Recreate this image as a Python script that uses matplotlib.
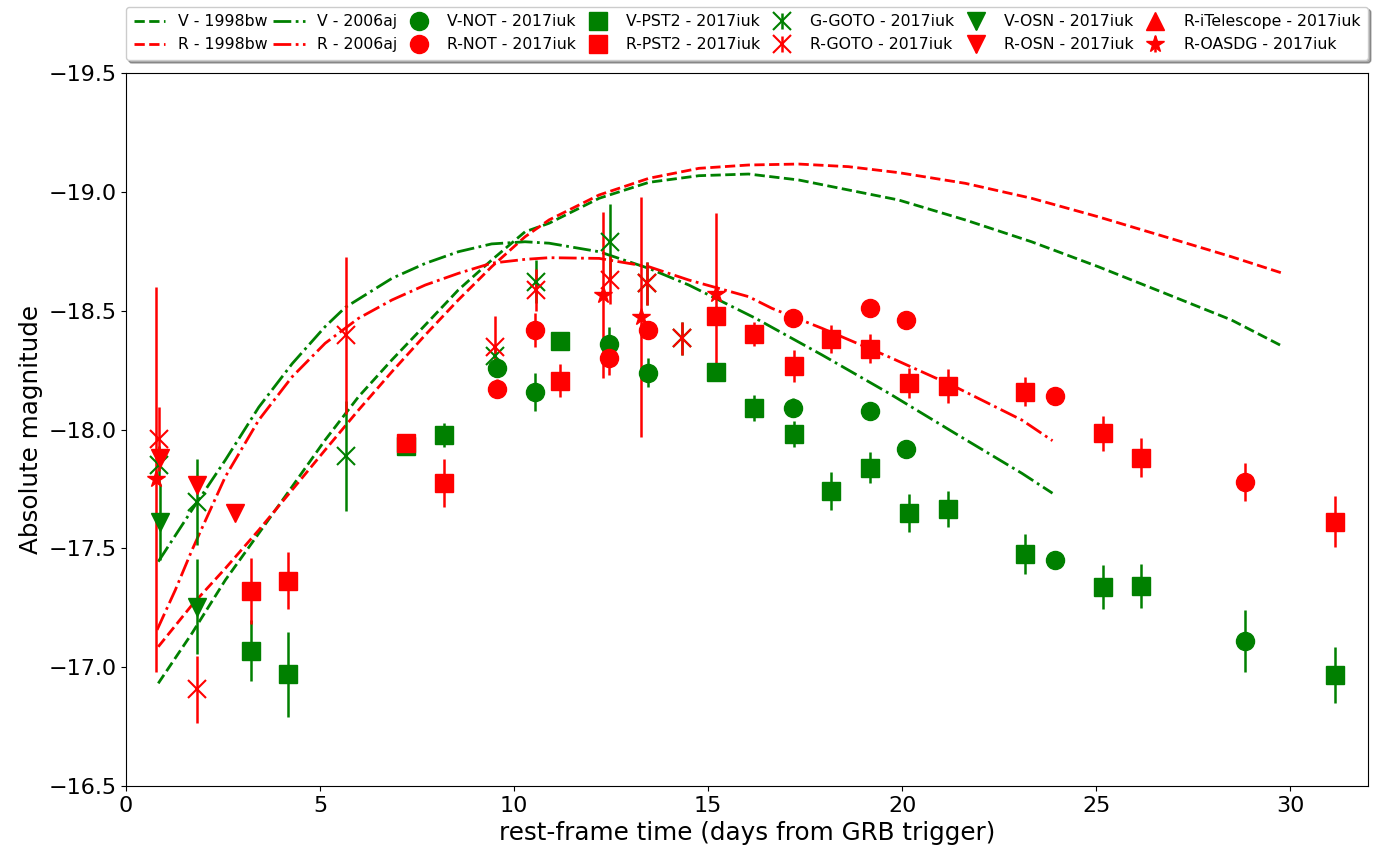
import matplotlib
matplotlib.use("Agg")
import matplotlib.pyplot as plt

# ---------------- template light curves ----------------
v98_t = [0.83, 1.70, 2.56, 3.42, 4.28, 5.13, 5.99, 6.85, 7.71, 8.56, 9.42, 10.28,
         10.9, 12.19, 13.47, 14.76, 16.04, 17.33, 18.61, 19.9, 21.62, 23.33, 25.05,
         26.77, 28.48, 29.81]
v98_m = [-16.932, -17.143, -17.367, -17.563, -17.760, -17.956, -18.138, -18.293,
         -18.440, -18.587, -18.713, -18.832, -18.868, -18.973, -19.040, -19.068,
         -19.075, -19.050, -19.008, -18.966, -18.882, -18.790, -18.685, -18.573,
         -18.461, -18.349]

r98_t = [0.83, 1.70, 2.56, 3.42, 4.28, 5.13, 5.99, 6.85, 7.71, 8.56, 9.42, 10.28,
         10.9, 12.19, 13.47, 14.76, 16.04, 17.33, 18.61, 19.9, 21.62, 23.33, 25.05,
         26.77, 28.48, 29.81]
r98_m = [-17.086, -17.262, -17.416, -17.577, -17.746, -17.914, -18.082, -18.243,
         -18.398, -18.545, -18.685, -18.811, -18.882, -18.987, -19.057, -19.099,
         -19.113, -19.117, -19.106, -19.081, -19.036, -18.973, -18.895, -18.811,
         -18.727, -18.657]

v06_t = [0.83, 1.70, 2.56, 3.42, 4.28, 5.13, 5.65, 6.85, 7.71, 8.56, 9.42, 10.28,
         10.9, 12.19, 13.47, 14.5, 16.22, 17.93, 19.65, 21.36, 23.08, 23.87]
v06_m = [-17.444, -17.662, -17.872, -18.094, -18.277, -18.433, -18.514, -18.636,
         -18.699, -18.748, -18.781, -18.790, -18.784, -18.748, -18.678, -18.608,
         -18.468, -18.314, -18.153, -17.984, -17.816, -17.732]

r06_t = [0.80, 1.27, 1.70, 2.56, 3.42, 4.28, 5.13, 5.99, 6.85, 7.71, 8.56, 9.42,
         10.28, 10.9, 12.19, 13.47, 14.5, 16.04, 16.64, 17.93, 19.65, 21.36, 23.08,
         23.87]
r06_m = [-17.157, -17.325, -17.493, -17.802, -18.040, -18.222, -18.363, -18.468,
         -18.545, -18.608, -18.657, -18.700, -18.716, -18.723, -18.720, -18.685,
         -18.629, -18.559, -18.510, -18.426, -18.306, -18.180, -18.040, -17.953]

# ---------------- 2017iuk photometry ----------------
not_t = [9.57, 10.54, 12.44, 13.45, 17.18, 19.16, 20.09, 23.94, 28.83]
vnot_m = [-18.260, -18.159, -18.360, -18.239, -18.091, -18.079, -17.918, -17.450, -17.110]
vnot_e = [0.03, 0.08, 0.07, 0.06, 0.04, 0.02, 0.02, 0.02, 0.13]
rnot_m = [-18.171, -18.419, -18.300, -18.419, -18.471, -18.510, -18.461, -18.141, -17.781]
rnot_e = [0.04, 0.07, 0.07, 0.02, 0.02, 0.02, 0.02, 0.02, 0.08]

pst_t = [3.23, 4.18, 7.22, 8.20, 11.18, 15.19, 16.17, 17.21, 18.17, 19.18, 20.18,
         21.19, 23.17, 25.17, 26.15, 31.14]
vpst_m = [-17.07, -16.97, -17.93, -17.977, -18.372, -18.243, -18.092, -17.981,
          -17.743, -17.839, -17.648, -17.667, -17.476, -17.339, -17.342, -16.967]
vpst_e = [0.13, 0.18, 0.03, 0.05, 0.03, 0.03, 0.055, 0.055, 0.08, 0.065, 0.08,
          0.076, 0.085, 0.093, 0.093, 0.118]
rpst_m = [-17.321, -17.364, -17.943, -17.774, -18.206, -18.479, -18.402, -18.267,
          -18.381, -18.340, -18.195, -18.183, -18.159, -17.984, -17.882, -17.612]
rpst_e = [0.14, 0.12, 0.03, 0.10, 0.07, 0.04, 0.05, 0.067, 0.06, 0.06, 0.063,
          0.07, 0.06, 0.073, 0.083, 0.107]

goto_t = [0.86, 1.83, 5.67, 9.51, 10.56, 12.47, 13.43, 14.33]
ggoto_m = [-17.85, -17.696, -17.889, -18.310, -18.622, -18.790, -18.615, -18.384]
ggoto_e = [0.08, 0.18, 0.23, 0.05, 0.09, 0.16, 0.09, 0.07]
rgoto_m = [-17.960, -16.907, -18.396, -18.349, -18.587, -18.629, -18.615, -18.384]
rgoto_e = [0.133, 0.14, 0.33, 0.13, 0.09, 0.10, 0.09, 0.07]

vosn_t = [0.88, 1.83]
vosn_m = [-17.610, -17.255]
vosn_e = [0.16, 0.20]
rosn_t = [0.88, 1.83, 2.82]
rosn_m = [-17.879, -17.765, -17.648]
rosn_e = [0.03, 0.03, 0.02]

itel_t = []
itel_m = []

oasdg_t = [0.76, 12.29, 13.26, 15.19]
oasdg_m = [-17.791, -18.566, -18.472, -18.570]
oasdg_e = [0.81, 0.35, 0.505, 0.343]

legend_order = ['V - 1998bw', 'R - 1998bw', 'V - 2006aj', 'R - 2006aj',
                'V-NOT - 2017iuk', 'R-NOT - 2017iuk', 'V-PST2 - 2017iuk',
                'R-PST2 - 2017iuk', 'G-GOTO - 2017iuk', 'R-GOTO - 2017iuk',
                'V-OSN - 2017iuk', 'R-OSN - 2017iuk', 'R-iTelescope - 2017iuk',
                'R-OASDG - 2017iuk']

# ---------------- figure ----------------
fig = plt.figure(figsize=(13.82, 8.57), dpi=100)
ax = fig.add_axes([0.0912, 0.0828, 0.8987, 0.832])

G = 'green'
R = 'red'
lw = 2.0
ms = 13
elw = 1.8

ax.plot(v98_t, v98_m, '--', color=G, lw=lw, label=legend_order[0])
ax.plot(r98_t, r98_m, '--', color=R, lw=lw, label=legend_order[1])
ax.plot(v06_t, v06_m, '-.', color=G, lw=lw, label=legend_order[2])
ax.plot(r06_t, r06_m, '-.', color=R, lw=lw, label=legend_order[3])

ax.errorbar(not_t, vnot_m, yerr=vnot_e, fmt='o', color=G, ms=ms, elinewidth=elw,
            capsize=0, label=legend_order[4])
ax.errorbar(not_t, rnot_m, yerr=rnot_e, fmt='o', color=R, ms=ms, elinewidth=elw,
            capsize=0, label=legend_order[5])
ax.errorbar(pst_t, vpst_m, yerr=vpst_e, fmt='s', color=G, ms=ms, elinewidth=elw,
            capsize=0, label=legend_order[6])
ax.errorbar(pst_t, rpst_m, yerr=rpst_e, fmt='s', color=R, ms=ms, elinewidth=elw,
            capsize=0, label=legend_order[7])
ax.errorbar(goto_t, ggoto_m, yerr=ggoto_e, fmt='x', color=G, ms=13, mew=1.5,
            elinewidth=elw, capsize=0, label=legend_order[8])
ax.errorbar(goto_t, rgoto_m, yerr=rgoto_e, fmt='x', color=R, ms=13, mew=1.5,
            elinewidth=elw, capsize=0, label=legend_order[9])
ax.errorbar(vosn_t, vosn_m, yerr=vosn_e, fmt='v', color=G, ms=ms, elinewidth=elw,
            capsize=0, label=legend_order[10])
ax.errorbar(rosn_t, rosn_m, yerr=rosn_e, fmt='v', color=R, ms=ms, elinewidth=elw,
            capsize=0, label=legend_order[11])
ax.plot(itel_t, itel_m, '^', color=R, ms=ms, label=legend_order[12])
ax.errorbar(oasdg_t, oasdg_m, yerr=oasdg_e, fmt='*', color=R, ms=ms, elinewidth=elw,
            capsize=0, label=legend_order[13])

ax.set_xlim(0, 32)
ax.set_ylim(-16.5, -19.5)
ax.set_yticks([-19.5, -19.0, -18.5, -18.0, -17.5, -17.0, -16.5])
ax.tick_params(labelsize=16)
ax.set_xlabel('rest-frame time (days from GRB trigger)', fontsize=17.7)
ax.set_ylabel('Absolute magnitude', fontsize=17.7)

handles, labels = ax.get_legend_handles_labels()
lookup = dict(zip(labels, handles))
ax.legend([lookup[k] for k in legend_order], legend_order,
          bbox_to_anchor=(0, 1.018, 1, 0.076), loc='lower left', mode='expand',
          ncol=7, borderaxespad=0, fontsize=11.3, numpoints=1, shadow=True,
          fancybox=True, handletextpad=0.8, columnspacing=0.3, borderpad=0.5)

fig.savefig('out.png', dpi=100)
